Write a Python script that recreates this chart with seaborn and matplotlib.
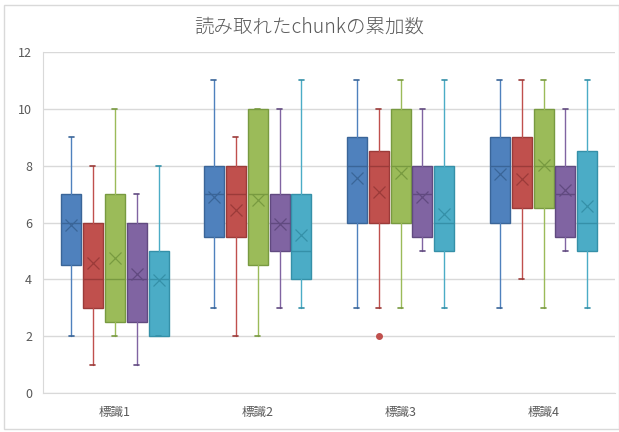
import numpy as np
import matplotlib.pyplot as plt
import seaborn as sns
from matplotlib.patches import Rectangle

# Data: rows = series, columns = groups
groups = ['標識1', '標識2', '標識3', '標識4']
whisker_low = [[2, 3, 3, 3], [1, 2, 3, 4], [2, 2, 3, 3], [1, 3, 5, 5], [2, 3, 3, 3]]
q1 = [[4.5, 5.5, 6, 6], [3, 5.5, 6, 6.5], [2.5, 4.5, 6, 6.5], [2.5, 5, 5.5, 5.5], [2, 4, 5, 5]]
median = [[6, 7, 8, 8], [4, 7, 8, 8], [4, 7, 8, 8], [4, 6, 7, 7], [4, 5, 6, 6]]
q3 = [[7, 8, 9, 9], [6, 8, 8.5, 9], [7, 10, 10, 10], [6, 7, 8, 8], [5, 7, 8, 8.5]]
whisker_high = [[9, 11, 11, 11], [8, 9, 10, 11], [10, 10, 11, 11], [7, 10, 10, 10], [8, 11, 11, 11]]
means = [[5.9, 6.88, 7.55, 7.7], [4.56, 6.44, 7.08, 7.52], [4.76, 6.79, 7.73, 8.02],
         [4.19, 5.95, 6.88, 7.14], [3.98, 5.56, 6.29, 6.58]]
outliers = [[[], [], [], []], [[], [], [2], []], [[], [], [], []], [[], [], [], []], [[], [], [], []]]

fill_colors = ['#4F81BD', '#C0504D', '#9BBB59', '#8064A2', '#4BACC6']
edge_colors = ['#3A6598', '#9B3B39', '#789A40', '#614A80', '#3590A8']

sns.set_style('white')
plt.rcParams['font.family'] = ['Noto Sans CJK JP', 'DejaVu Sans']

fig, ax = plt.subplots(figsize=(6.19, 4.32), dpi=100)
fig.subplots_adjust(left=0.070, right=0.9935, bottom=0.0903, top=0.8796)

offsets = [-0.306, -0.153, 0, 0.153, 0.306]
x = np.arange(len(groups))

for s in range(5):
    stats = []
    for g in range(len(groups)):
        stats.append({'whislo': whisker_low[s][g], 'q1': q1[s][g], 'med': median[s][g],
                      'q3': q3[s][g], 'whishi': whisker_high[s][g], 'mean': means[s][g],
                      'fliers': outliers[s][g]})
    ax.bxp(stats, positions=x + offsets[s], widths=0.14, capwidths=0.035,
           patch_artist=True, showmeans=True, manage_ticks=False,
           boxprops=dict(facecolor=fill_colors[s], edgecolor=edge_colors[s], linewidth=1),
           medianprops=dict(color=edge_colors[s], linewidth=1),
           whiskerprops=dict(color=fill_colors[s], linewidth=1),
           capprops=dict(color=edge_colors[s], linewidth=1.2),
           meanprops=dict(marker='x', markeredgecolor=edge_colors[s], markersize=8, markeredgewidth=0.9),
           flierprops=dict(marker='o', markerfacecolor=fill_colors[s], markeredgecolor=fill_colors[s], markersize=4))

ax.set_xlim(-0.5, 3.5)
ax.set_ylim(0, 12)
ax.set_yticks(range(0, 13, 2))
ax.set_xticks(x)
ax.set_xticklabels(groups)
ax.yaxis.grid(True, color='#D9D9D9', linewidth=1)
ax.set_axisbelow(True)
ax.tick_params(axis='both', length=0, labelsize=9, labelcolor='#595959')
ax.tick_params(axis='y', pad=8)
ax.tick_params(axis='x', pad=9)
for side in ['top', 'right']:
    ax.spines[side].set_visible(False)
for side in ['left', 'bottom']:
    ax.spines[side].set_color('#D9D9D9')

fig.suptitle('読み取れたchunkの累加数', y=1 - 27 / 432, va='center', fontsize=14,
             color='#595959', fontweight='light')

# chart area border
fig.patches.append(Rectangle((4 / 619, 3 / 432), 1 - 4 / 619, 1 - 8 / 432, transform=fig.transFigure,
                             fill=False, edgecolor='#D9D9D9', linewidth=1))

plt.savefig('out.png', dpi=100)
